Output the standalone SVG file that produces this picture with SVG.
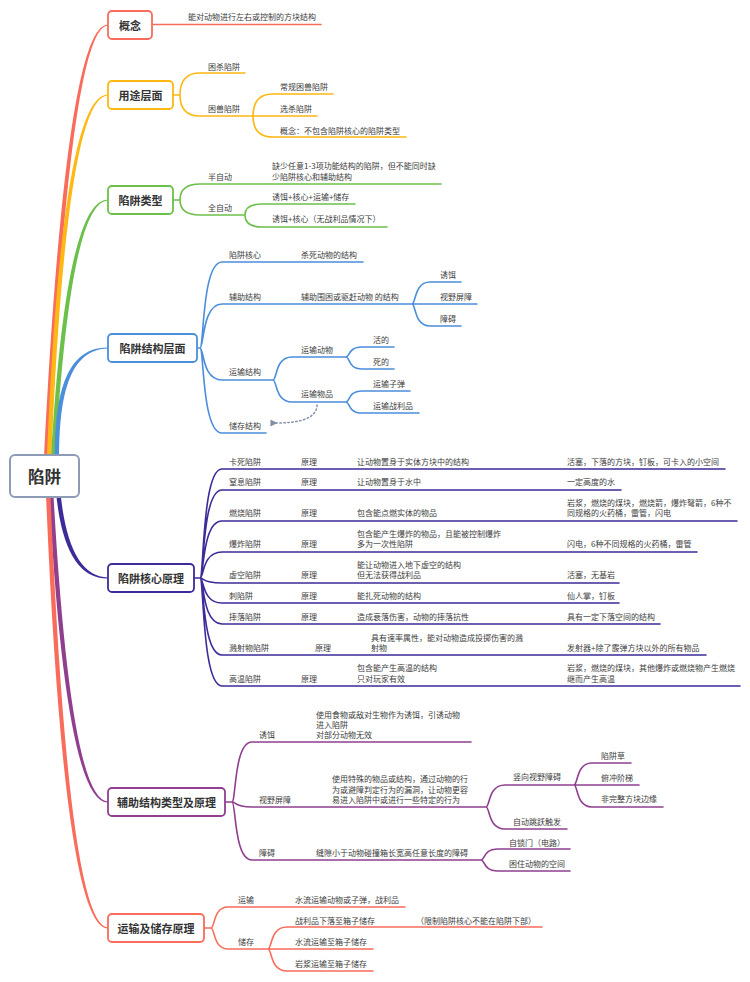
<svg xmlns="http://www.w3.org/2000/svg" width="750" height="982" viewBox="0 0 750 982">
<defs>
<style>
text{font-family:"Noto Sans CJK SC","Noto Sans",sans-serif;dominant-baseline:central}
.t{font-size:8px;fill:#3c3c3c}
.m{font-size:11px;font-weight:bold;fill:#333;text-anchor:middle}
.r{font-size:16.5px;font-weight:bold;fill:#333;text-anchor:middle}
.ln{fill:none;stroke-width:1.6;stroke-linecap:round}
.bx{fill:#fff;stroke-width:1.8}
.c1{stroke:#F96C5B}.c2{stroke:#FDB813}.c3{stroke:#6CC04A}.c4{stroke:#4B8FDC}.c5{stroke:#3C2B99}.c6{stroke:#8F3F8E}
</style>
<marker id="ar" viewBox="0 0 10 10" refX="2" refY="5" markerWidth="7" markerHeight="7" orient="auto-start-reverse" markerUnits="userSpaceOnUse">
<path d="M10,0 L0,5 L10,10 Z" fill="#8391A8"/>
</marker>
</defs>
<rect width="750" height="982" fill="#fff"/>

<g id="root-branches">
<path d="M43.8,460 Q65.8,23.8 108,24.4 L108,25.6 Q70.2,26.2 48.2,460 Z" fill="#F96C5B"/>
<path d="M46.8,460 Q61.8,93.8 108,94.4 L108,95.6 Q66.2,96.2 51.2,460 Z" fill="#FDB813"/>
<path d="M50.8,460 Q65.8,198.8 108,199.4 L108,200.6 Q70.2,201.2 55.2,460 Z" fill="#6CC04A"/>
<path d="M54.8,460 C54.8,410 59.8,346.8 108,347.4 L108,348.6 C64.2,349.2 59.2,410 59.2,460 Z" fill="#4B8FDC"/>
<path d="M55.8,490 Q63.8,579.2 108,578.6 L108,577.4 Q68.2,576.8 60.2,490 Z" fill="#3C2B99"/>
<path d="M48.8,490 Q65.8,803.2 108,802.6 L108,801.4 Q70.2,800.8 53.2,490 Z" fill="#8F3F8E"/>
<path d="M45.8,490 Q63.8,929.2 108,928.6 L108,927.4 Q68.2,926.8 50.2,490 Z" fill="#F96C5B"/>
</g>

<g id="root">
<rect x="10" y="455" width="69" height="42" rx="5" fill="#fff" stroke="#8D9BB4" stroke-width="2"/>
<text class="r" x="44.5" y="476">陷阱</text>
</g>

<g id="connectors">
<!-- 概念 -->
<path class="ln c1" d="M152,24.5 H321"/>
<!-- 用途层面 -->
<path class="ln c2" d="M173,95 H180 M180,95 Q180,73 200,73 H245 M180,95 Q180,116 200,116 H317 M253,116 Q253,94 273,94 H333 M253,116 Q253,137 273,137 H406"/>
<!-- 陷阱类型 -->
<path class="ln c3" d="M173,200 H180 M180,200 Q180,184 200,184 H441 M180,200 Q180,215 200,215 H245 M245,215 Q245,204 262,204 H355 M245,215 Q245,227 262,227 H387"/>
<!-- 陷阱结构层面 -->
<path class="ln c4" d="M197,348 H200 M200,348 C204,348 202,262 222,262 H363 M200,348 C204,348 202,304 222,304 H477 M200,348 C204,348 202,380 222,380 H273 M200,348 C204,348 202,433 222,433 H266 M412,304 C416,304 414,282 430,282 H461 M412,304 C416,304 414,326 430,326 H461 M273,380 C277,380 275,357 292,357 H346 M273,380 C277,380 275,402 292,402 H346 M346,357 C350,357 348,347 362,347 H394 M346,357 C350,357 348,369 362,369 H394 M346,402 C350,402 348,391 362,391 H410 M346,402 C350,402 348,413 362,413 H419"/>
<path d="M317,405 C317,419 298,423 276,423" fill="none" stroke="#8391A8" stroke-width="1.5" stroke-dasharray="1.5 2.5" stroke-linecap="round" marker-end="url(#ar)"/>
<!-- 陷阱核心原理 -->
<path class="ln c5" d="M194,578 H200 M200,578 C204,578 202,469 222,469 H725 M200,578 C204,578 202,490 222,490 H621 M200,578 C204,578 202,521 222,521 H737 M200,578 C204,578 202,552 222,552 H697 M200,578 C204,578 202,583 222,583 H619 M200,578 C204,578 202,603 222,603 H619 M200,578 C204,578 202,624 222,624 H660 M200,578 C204,578 202,655 222,655 H706 M200,578 C204,578 202,686 222,686 H740"/>
<!-- 辅助结构类型及原理 -->
<path class="ln c6" d="M225,802 H232 M232,802 C236,802 234,742 252,742 H471 M232,802 C236,802 234,807 252,807 H486 M232,802 C236,802 234,860 252,860 H481 M486,807 C490,807 488,785 505,785 H639 M486,807 C490,807 488,829 505,829 H567 M574,785 C578,785 576,763 592,763 H631 M574,785 C578,785 576,807 592,807 H663 M481,860 C485,860 483,849 498,849 H570 M481,860 C485,860 483,871 498,871 H570"/>
<!-- 运输及储存原理 -->
<path class="ln c1" d="M204,928 H211 M211,928 C215,928 213,907 228,907 H405 M211,928 C215,928 213,949 228,949 H373 M268,949 C272,949 270,927 287,927 H542 M268,949 C272,949 270,971 287,971 H373"/>
</g>

<g id="n-concept">
<rect class="bx c1" x="108" y="11" width="44" height="28" rx="4"/>
<text class="m" x="130" y="25">概念</text>
<text class="t" x="188" y="16">能对动物进行左右或控制的方块结构</text>
</g>

<g id="n-use">
<rect class="bx c2" x="108" y="81" width="65" height="28" rx="4"/>
<text class="m" x="140.5" y="95">用途层面</text>
<text class="t" x="208" y="66">困杀陷阱</text>
<text class="t" x="208" y="108">困兽陷阱</text>
<text class="t" x="280" y="86">常规困兽陷阱</text>
<text class="t" x="280" y="108">选杀陷阱</text>
<text class="t" x="280" y="130">概念：不包含陷阱核心的陷阱类型</text>
</g>

<g id="n-type">
<rect class="bx c3" x="108" y="186" width="65" height="28" rx="4"/>
<text class="m" x="140.5" y="200">陷阱类型</text>
<text class="t" x="208" y="176">半自动</text>
<text class="t" x="272" y="165">缺少任意1-3项功能结构的陷阱，但不能同时缺</text>
<text class="t" x="272" y="176">少陷阱核心和辅助结构</text>
<text class="t" x="208" y="207">全自动</text>
<text class="t" x="272" y="196">诱饵+核心+运输+储存</text>
<text class="t" x="272" y="218">诱饵+核心（无战利品情况下）</text>
</g>

<g id="n-struct">
<rect class="bx c4" x="108" y="334" width="89" height="28" rx="4"/>
<text class="m" x="152.5" y="348">陷阱结构层面</text>
<text class="t" x="229" y="254">陷阱核心</text>
<text class="t" x="301" y="254">杀死动物的结构</text>
<text class="t" x="229" y="296">辅助结构</text>
<text class="t" x="301" y="296">辅助围困或驱赶动物 的结构</text>
<text class="t" x="440" y="274">诱饵</text>
<text class="t" x="440" y="296">视野屏障</text>
<text class="t" x="440" y="318">障碍</text>
<text class="t" x="229" y="371">运输结构</text>
<text class="t" x="301" y="349">运输动物</text>
<text class="t" x="373" y="339">活的</text>
<text class="t" x="373" y="361">死的</text>
<text class="t" x="301" y="393">运输物品</text>
<text class="t" x="373" y="383">运输子弹</text>
<text class="t" x="373" y="405">运输战利品</text>
<text class="t" x="229" y="425">储存结构</text>
</g>

<g id="n-core">
<rect class="bx c5" x="108" y="564" width="86" height="28" rx="4"/>
<text class="m" x="151" y="578">陷阱核心原理</text>
<text class="t" x="229" y="461">卡死陷阱</text><text class="t" x="301" y="461">原理</text>
<text class="t" x="357" y="461">让动物置身于实体方块中的结构</text>
<text class="t" x="567" y="461">活塞，下落的方块，钉板，可卡入的小空间</text>
<text class="t" x="229" y="481">窒息陷阱</text><text class="t" x="301" y="481">原理</text>
<text class="t" x="357" y="481">让动物置身于水中</text>
<text class="t" x="567" y="481">一定高度的水</text>
<text class="t" x="229" y="512">燃烧陷阱</text><text class="t" x="301" y="512">原理</text>
<text class="t" x="357" y="512">包含能点燃实体的物品</text>
<text class="t" x="567" y="502">岩浆，燃烧的煤块，燃烧箭，爆炸弩箭，6种不</text>
<text class="t" x="567" y="512">同规格的火药桶，雷管，闪电</text>
<text class="t" x="229" y="543">爆炸陷阱</text><text class="t" x="301" y="543">原理</text>
<text class="t" x="357" y="533">包含能产生爆炸的物品，且能被控制爆炸</text>
<text class="t" x="357" y="543">多为一次性陷阱</text>
<text class="t" x="567" y="543">闪电，6种不同规格的火药桶，雷管</text>
<text class="t" x="229" y="574">虚空陷阱</text><text class="t" x="301" y="574">原理</text>
<text class="t" x="357" y="564">能让动物进入地下虚空的结构</text>
<text class="t" x="357" y="574">但无法获得战利品</text>
<text class="t" x="567" y="574">活塞，无基岩</text>
<text class="t" x="229" y="595">刺陷阱</text><text class="t" x="301" y="595">原理</text>
<text class="t" x="357" y="595">能扎死动物的结构</text>
<text class="t" x="567" y="595">仙人掌，钉板</text>
<text class="t" x="229" y="616">摔落陷阱</text><text class="t" x="301" y="616">原理</text>
<text class="t" x="357" y="616">造成衰落伤害，动物的摔落抗性</text>
<text class="t" x="567" y="616">具有一定下落空间的结构</text>
<text class="t" x="229" y="647">溅射物陷阱</text><text class="t" x="315" y="647">原理</text>
<text class="t" x="371" y="637">具有速率属性，能对动物造成投掷伤害的溅</text>
<text class="t" x="371" y="647">射物</text>
<text class="t" x="567" y="647">发射器+除了霰弹方块以外的所有物品</text>
<text class="t" x="229" y="678">高温陷阱</text><text class="t" x="301" y="678">原理</text>
<text class="t" x="357" y="667">包含能产生高温的结构</text>
<text class="t" x="357" y="678">只对玩家有效</text>
<text class="t" x="567" y="667">岩浆，燃烧的煤块，其他爆炸或燃烧物产生燃烧</text>
<text class="t" x="567" y="678">继而产生高温</text>
</g>

<g id="n-aux">
<rect class="bx c6" x="108" y="788" width="117" height="28" rx="4"/>
<text class="m" x="166.5" y="802">辅助结构类型及原理</text>
<text class="t" x="259" y="734">诱饵</text>
<text class="t" x="316" y="714">使用食物或敌对生物作为诱饵，引诱动物</text>
<text class="t" x="316" y="724">进入陷阱</text>
<text class="t" x="316" y="734">对部分动物无效</text>
<text class="t" x="259" y="799">视野屏障</text>
<text class="t" x="332" y="778">使用特殊的物品或结构，通过动物的行</text>
<text class="t" x="332" y="789">为或避障判定行为的漏洞，让动物更容</text>
<text class="t" x="332" y="799">易进入陷阱中或进行一些特定的行为</text>
<text class="t" x="513" y="776">竖向视野障碍</text>
<text class="t" x="601" y="755">陷阱草</text>
<text class="t" x="601" y="777">俯冲阶梯</text>
<text class="t" x="601" y="798">非完整方块边缘</text>
<text class="t" x="513" y="821">自动跳跃触发</text>
<text class="t" x="259" y="852">障碍</text>
<text class="t" x="316" y="852">缝隙小于动物碰撞箱长宽高任意长度的障碍</text>
<text class="t" x="509" y="842">自锁门（电路）</text>
<text class="t" x="509" y="863">困住动物的空间</text>
</g>

<g id="n-transport">
<rect class="bx c1" x="108" y="914" width="96" height="28" rx="4"/>
<text class="m" x="156" y="928">运输及储存原理</text>
<text class="t" x="238" y="899">运输</text>
<text class="t" x="295" y="899">水流运输动物或子弹，战利品</text>
<text class="t" x="238" y="941">储存</text>
<text class="t" x="295" y="920">战利品下落至箱子储存</text>
<text class="t" x="416" y="920">（限制陷阱核心不能在陷阱下部）</text>
<text class="t" x="295" y="941">水流运输至箱子储存</text>
<text class="t" x="295" y="963">岩浆运输至箱子储存</text>
</g>
</svg>
